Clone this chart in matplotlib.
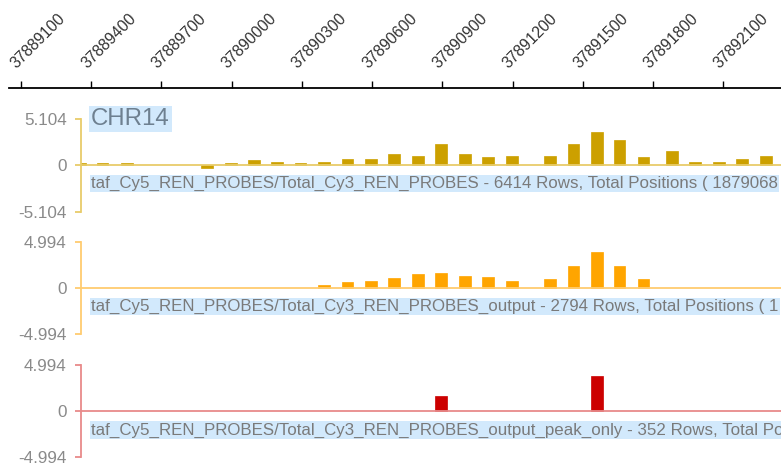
import matplotlib
matplotlib.use("Agg")
import matplotlib.pyplot as plt
from matplotlib.transforms import offset_copy

plt.rcParams['font.family'] = ['Liberation Sans', 'DejaVu Sans']

# genomic tick labels on the top scale
scale_ticks = [37889100, 37889400, 37889700, 37890000, 37890300, 37890600,
               37890900, 37891200, 37891500, 37891800, 37892100]

# track 1: total ratio
total_pos = [37889353, 37889449, 37889554, 37889895, 37889998, 37890095,
             37890193, 37890295, 37890395, 37890495, 37890596, 37890694,
             37890796, 37890895, 37890996, 37891095, 37891196, 37891359,
             37891460, 37891559, 37891657, 37891759, 37891880, 37891979,
             37892080, 37892180, 37892282]
total_val = [0.22, 0.22, 0.22, -0.25, 0.22, 0.55, 0.4, 0.22, 0.38, 0.75,
             0.75, 1.22, 1.05, 2.3, 1.22, 0.88, 1.05, 1.05, 2.3, 3.63,
             2.75, 0.88, 1.55, 0.38, 0.38, 0.72, 1.05]

# track 2: output
output_pos = [37890395, 37890495, 37890596, 37890694, 37890796, 37890895,
              37890996, 37891095, 37891196, 37891359, 37891460, 37891559,
              37891657, 37891759]
output_val = [0.3, 0.62, 0.8, 1.12, 1.48, 1.67, 1.34, 1.16, 0.8, 0.98,
              2.32, 3.84, 2.32, 0.98]

# track 3: peaks only
peak_pos = [37890895, 37891559]
peak_val = [1.67, 3.84]

chrom = "CHR14"
desc_total = "taf_Cy5_REN_PROBES/Total_Cy3_REN_PROBES - 6414 Rows, Total Positions ( 1879068"
desc_output = "taf_Cy5_REN_PROBES/Total_Cy3_REN_PROBES_output - 2794 Rows, Total Positions ( 1"
desc_peak = "taf_Cy5_REN_PROBES/Total_Cy3_REN_PROBES_output_peak_only - 352 Rows, Total Positions"

W, H = 781, 472
fig = plt.figure(figsize=(W / 100, H / 100), dpi=100)


def px_axes(x0, y0, x1, y1):
    return fig.add_axes([x0 / W, 1 - y1 / H, (x1 - x0) / W, (y1 - y0) / H])


x_left_scale = 37889051
x_left_panel = 37889356
x_right = 37892346

# top scale
ax_s = px_axes(9.3, 30, W, 88)
ax_s.set_xlim(x_left_scale, x_right)
ax_s.set_ylim(0, 1)
for s in ['top', 'left', 'right']:
    ax_s.spines[s].set_visible(False)
ax_s.spines['bottom'].set_linewidth(1.3)
ax_s.set_yticks([])
ax_s.set_xticks(scale_ticks)
ax_s.tick_params(axis='x', direction='in', length=5, width=1, labelbottom=False)
tr = offset_copy(ax_s.get_xaxis_transform(), fig=fig, x=-4, y=19, units='dots')
for t in scale_ticks:
    ax_s.text(t, 0, str(t), transform=tr, rotation=45, rotation_mode='anchor',
              ha='left', va='baseline', fontsize=11.3, color='#333333', clip_on=False)

panels = [
    (total_pos, total_val, 5.104, 119, 211.7, '#cca000', '#e8cc6a', desc_total, 183.3),
    (output_pos, output_val, 4.994, 241.7, 334.3, '#ffa500', '#ffcc70', desc_output, 306.7),
    (peak_pos, peak_val, 4.994, 365, 457.3, '#cc0000', '#e88a8a', desc_peak, 430),
]

for pos, val, m, y0, y1, c, lc, desc, ty in panels:
    ax = px_axes(80.7, y0, W, y1)
    ax.set_xlim(x_left_panel, x_right)
    ax.set_ylim(-m, m)
    ax.bar(pos, val, width=50, color=c, edgecolor=c, linewidth=0.5)
    ax.axhline(0, color=lc, lw=1.3)
    for s in ['top', 'bottom', 'right']:
        ax.spines[s].set_visible(False)
    ax.spines['left'].set_color(lc)
    ax.spines['left'].set_linewidth(1.3)
    ax.set_xticks([])
    ax.set_yticks([-m, 0, m])
    ax.set_yticklabels([f"-{m:.3f}", "0", f"{m:.3f}"])
    ax.tick_params(axis='y', length=4, width=1.3, color=lc, pad=6,
                   labelsize=12.3, labelcolor='#8a8a8a')
    fig.text(91 / W, 1 - ty / H, desc, ha='left', va='center', fontsize=12.2,
             color='#7a7a7a', bbox=dict(facecolor='#d2e9fc', edgecolor='none', pad=0.8))

fig.text(91 / W, 1 - 119 / H, chrom, ha='left', va='center', fontsize=17.3,
         color='#6e8090', bbox=dict(facecolor='#d2e9fc', edgecolor='none', pad=1.5))

fig.savefig("out.png", dpi=100)
